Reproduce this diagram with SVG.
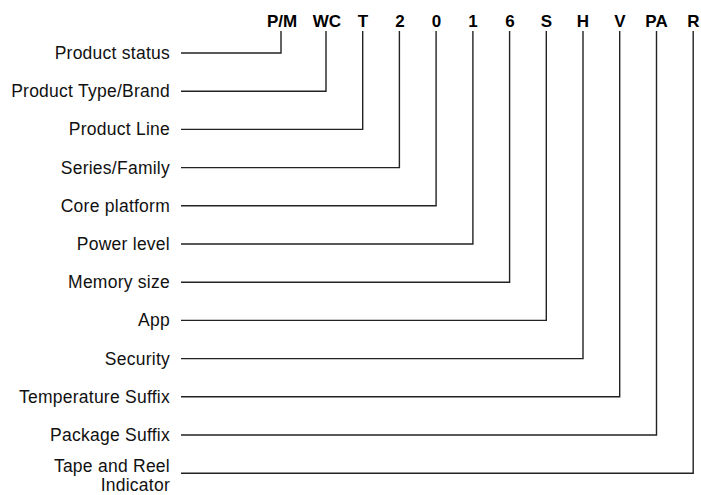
<svg xmlns="http://www.w3.org/2000/svg" width="701" height="495" viewBox="0 0 701 495">
  <style>
    .code { font-family: "Liberation Sans", Arial, sans-serif; font-size: 17px; font-weight: bold; fill: #000; text-anchor: middle; }
    .lbl { font-family: "Liberation Sans", Arial, sans-serif; font-size: 17.5px; letter-spacing: 0.25px; fill: #111; text-anchor: end; }
    .conn { fill: none; stroke: #222; stroke-width: 1.4; }
  </style>
  <rect width="701" height="495" fill="#fff"/>

  <!-- part-number characters -->
  <g id="codes">
    <text class="code" x="282" y="27">P/M</text>
    <text class="code" x="327" y="27">WC</text>
    <text class="code" x="363" y="27">T</text>
    <text class="code" x="400" y="27">2</text>
    <text class="code" x="436.5" y="27">0</text>
    <text class="code" x="473" y="27">1</text>
    <text class="code" x="510" y="27">6</text>
    <text class="code" x="546.5" y="27">S</text>
    <text class="code" x="583" y="27">H</text>
    <text class="code" x="620" y="27">V</text>
    <text class="code" x="656.5" y="27">PA</text>
    <text class="code" x="693.5" y="27">R</text>
  </g>

  <!-- field labels -->
  <g id="label-status"><text class="lbl" x="170" y="59">Product status</text></g>
  <g id="label-type"><text class="lbl" x="170" y="97.2">Product Type/Brand</text></g>
  <g id="label-line"><text class="lbl" x="170" y="135.4">Product Line</text></g>
  <g id="label-series"><text class="lbl" x="170" y="173.6">Series/Family</text></g>
  <g id="label-core"><text class="lbl" x="170" y="211.8">Core platform</text></g>
  <g id="label-power"><text class="lbl" x="170" y="250">Power level</text></g>
  <g id="label-memory"><text class="lbl" x="170" y="288.2">Memory size</text></g>
  <g id="label-app"><text class="lbl" x="170" y="326.4">App</text></g>
  <g id="label-security"><text class="lbl" x="170" y="364.6">Security</text></g>
  <g id="label-temp"><text class="lbl" x="170" y="402.8">Temperature Suffix</text></g>
  <g id="label-package"><text class="lbl" x="170" y="441">Package Suffix</text></g>
  <g id="label-tape"><text class="lbl" x="170" y="472">Tape and Reel</text><text class="lbl" x="170" y="491">Indicator</text></g>

  <!-- leader lines from each label up to its character -->
  <g id="connectors">
    <polyline class="conn" points="181,53 281,53 281,31"/>
    <polyline class="conn" points="181,91.2 326,91.2 326,31"/>
    <polyline class="conn" points="181,129.4 362.7,129.4 362.7,31"/>
    <polyline class="conn" points="181,167.6 399.4,167.6 399.4,31"/>
    <polyline class="conn" points="181,205.8 436.1,205.8 436.1,31"/>
    <polyline class="conn" points="181,244 472.9,244 472.9,31"/>
    <polyline class="conn" points="181,282.2 509.6,282.2 509.6,31"/>
    <polyline class="conn" points="181,320.4 546.3,320.4 546.3,31"/>
    <polyline class="conn" points="181,358.6 583,358.6 583,31"/>
    <polyline class="conn" points="181,396.8 619.7,396.8 619.7,31"/>
    <polyline class="conn" points="181,435 656.5,435 656.5,31"/>
    <polyline class="conn" points="181,473.2 693.2,473.2 693.2,31"/>
  </g>
</svg>
